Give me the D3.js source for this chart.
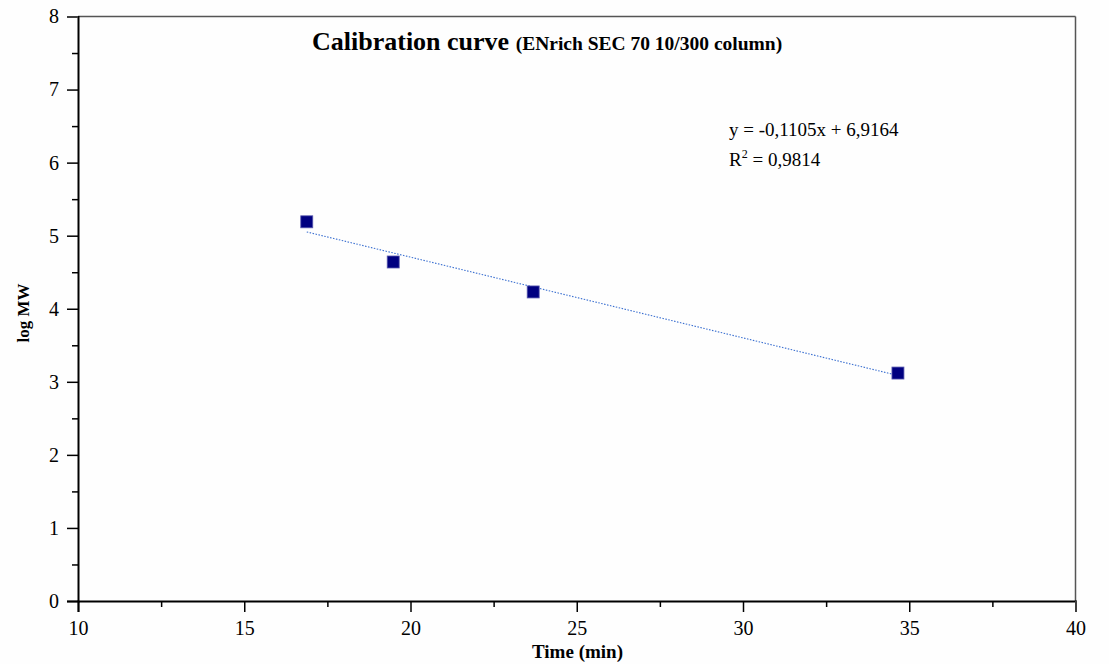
<!DOCTYPE html>
<html>
<head>
<meta charset="utf-8">
<script src="https://cdn.jsdelivr.net/npm/d3@7"></script>
<style>
  html, body { margin: 0; padding: 0; background: #fefefe; }
  svg { display: block; }
  svg text { font-family: "Liberation Serif", "Times New Roman", serif; fill: #000; }
</style>
</head>
<body>
<svg id="chart" width="1109" height="664"></svg>
<script>
// Elution time (min) and log MW of the calibration standards
const times = [16.88, 19.48, 23.69, 34.66];
const logMW = [5.19, 4.64, 4.23, 3.12];
// Linear fit reported for the column
const slope = -0.1105;
const intercept = 6.9164;
const fitLabel = "y = -0,1105x + 6,9164";
const r2Label = "0,9814";
const xTicks = [10, 15, 20, 25, 30, 35, 40];
const yTicks = [0, 1, 2, 3, 4, 5, 6, 7, 8];

const svg = d3.select("#chart");
const plotL = 78, plotR = 1075.5, plotT = 16.5, plotB = 601;

const x = d3.scaleLinear().domain([10, 40]).range([plotL, plotR]);
const y = d3.scaleLinear().domain([0, 8]).range([plotB, plotT]);

// frame: top and right edges
svg.append("line").attr("x1", plotL).attr("x2", plotR).attr("y1", plotT).attr("y2", plotT)
  .attr("stroke", "#555").attr("stroke-width", 1.5);
svg.append("line").attr("x1", plotR).attr("x2", plotR).attr("y1", plotT).attr("y2", plotB)
  .attr("stroke", "#555").attr("stroke-width", 1.5);

// x axis
const xAxis = d3.axisBottom(x).tickValues(xTicks).tickSize(11).tickFormat(d3.format("d"));
const gx = svg.append("g").attr("transform", `translate(0,${plotB})`).call(xAxis);
gx.selectAll(".tick").filter(d => d === 40).select("line").attr("stroke", "#555");
gx.selectAll(".tick text").attr("y", 34).attr("dy", 0);
const xMinor = d3.axisBottom(x).tickValues(d3.range(12.5, 40, 5)).tickSize(6).tickFormat("");
svg.append("g").attr("transform", `translate(0,${plotB})`).call(xMinor)
  .select(".domain").remove();

// y axis
const yAxis = d3.axisLeft(y).tickValues(yTicks).tickSize(11).tickPadding(8).tickFormat(d3.format("d"));
const gy = svg.append("g").attr("transform", `translate(${plotL},0)`).call(yAxis);
gy.selectAll(".tick").filter(d => d === 8).select("line").attr("stroke", "#555");
const yMinor = d3.axisLeft(y).tickValues(d3.range(0.5, 8, 1)).tickSize(6).tickFormat("");
svg.append("g").attr("transform", `translate(${plotL},0)`).call(yMinor)
  .select(".domain").remove();

svg.selectAll(".domain").attr("stroke", "#000").attr("stroke-width", 2);
svg.selectAll(".tick line").attr("stroke-width", 1.5);
svg.selectAll(".tick text").attr("font-size", 20)
  .style("font-family", '"Liberation Serif", "Times New Roman", serif');

// trend line across the measured range
const [x0, x1] = d3.extent(times);
svg.append("line")
  .attr("x1", x(x0)).attr("y1", y(slope * x0 + intercept))
  .attr("x2", x(x1)).attr("y2", y(slope * x1 + intercept))
  .attr("stroke", "#3a6fd0").attr("stroke-width", 1.1)
  .attr("stroke-dasharray", "1.5,1.5");

// data markers
svg.selectAll("rect.pt").data(times.map((t, i) => [t, logMW[i]])).join("rect")
  .attr("class", "pt")
  .attr("x", d => x(d[0]) - 6).attr("y", d => y(d[1]) - 6)
  .attr("width", 12).attr("height", 12)
  .attr("fill", "#000080").attr("stroke", "#5a5ab0").attr("stroke-width", 0.8);

// title
const title = svg.append("text").attr("x", 312).attr("y", 50).attr("text-anchor", "start")
  .attr("font-weight", "bold");
title.append("tspan").attr("font-size", 26).text("Calibration curve ");
title.append("tspan").attr("font-size", 19.5).text("(ENrich SEC 70 10/300 column)");

// fit annotation
svg.append("text").attr("x", 729).attr("y", 136).attr("font-size", 19).text(fitLabel);
const r2 = svg.append("text").attr("x", 729).attr("y", 166).attr("font-size", 19);
r2.append("tspan").text("R");
r2.append("tspan").attr("font-size", 12).attr("dy", -8).text("2");
r2.append("tspan").attr("dy", 8).text(" = " + r2Label);

// axis titles
svg.append("text").attr("x", 577.5).attr("y", 658).attr("text-anchor", "middle")
  .attr("font-size", 19).attr("font-weight", "bold").text("Time (min)");
svg.append("text").attr("transform", "translate(29,313) rotate(-90)").attr("text-anchor", "middle")
  .attr("font-size", 17).attr("font-weight", "bold").text("log MW");
</script>
</body>
</html>
